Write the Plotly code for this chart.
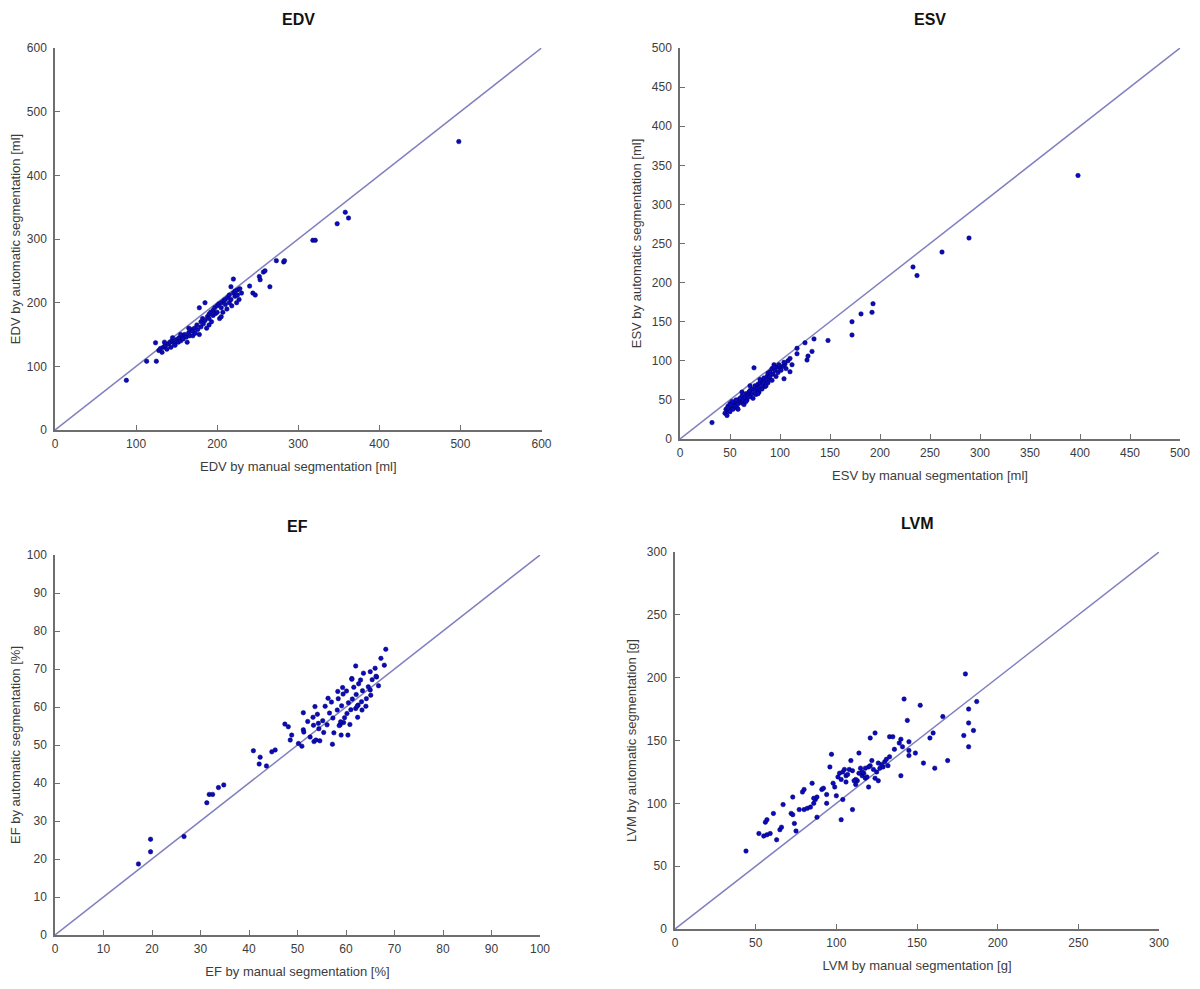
import plotly.graph_objects as go

# ---------------- data ----------------
edv_manual = [88, 113, 125, 124, 128, 130, 132, 134, 136, 138, 140, 142, 143, 145, 147, 148, 150, 152, 153, 155,
              157, 158, 160, 162, 163, 165, 166, 168, 170, 170, 172, 173, 175, 176, 178, 180, 180, 182, 183, 185,
              185, 187, 188, 190, 190, 192, 193, 195, 195, 197, 198, 200, 200, 202, 203, 205, 205, 207, 208, 210,
              210, 212, 213, 215, 215, 217, 218, 220, 220, 222, 222, 224, 225, 225, 227, 178, 165, 155, 145, 135,
              190, 205, 230, 228, 217, 240, 244, 247, 252, 253, 257, 259, 265, 273, 282, 283, 318, 321, 348, 358,
              362, 498]
edv_auto = [78, 108, 108, 137, 125, 128, 122, 130, 132, 127, 135, 138, 130, 140, 136, 133, 142, 138, 145, 140,
            148, 143, 150, 146, 138, 153, 148, 158, 155, 148, 160, 152, 165, 158, 150, 170, 162, 175, 167, 200,
            172, 160, 178, 182, 175, 185, 170, 188, 180, 192, 183, 195, 185, 198, 175, 192, 200, 185, 203, 197,
            205, 190, 208, 200, 212, 205, 195, 237, 215, 210, 218, 200, 212, 220, 205, 192, 160, 150, 145, 138,
            165, 178, 215, 222, 225, 226, 215, 212, 241, 236, 248, 250, 225, 266, 264, 266, 298, 298, 324, 342,
            333, 453]

esv_manual = [32, 45, 46, 47, 48, 48, 50, 50, 52, 53, 54, 55, 56, 57, 58, 58, 60, 60, 62, 62,
              63, 64, 65, 66, 67, 68, 69, 70, 70, 72, 72, 73, 74, 75, 75, 76, 77, 78, 79, 80,
              80, 82, 82, 83, 84, 85, 86, 87, 88, 88, 89, 90, 90, 92, 92, 93, 94, 95, 96, 97,
              98, 99, 100, 101, 103, 104, 105, 106, 108, 110, 110, 112, 58, 66, 78, 86, 48, 52, 56, 62,
              70, 80, 94, 104, 117, 117, 125, 127, 128, 132, 134, 148, 172, 172, 181, 192, 193, 233, 237, 262,
              289, 398]
esv_auto = [21, 33, 38, 30, 36, 42, 35, 45, 40, 38, 44, 42, 47, 40, 50, 45, 48, 52, 46, 55,
            50, 44, 53, 58, 50, 56, 60, 54, 62, 58, 64, 52, 91, 62, 68, 57, 65, 70, 60, 66,
            72, 64, 75, 70, 78, 67, 74, 80, 72, 84, 77, 86, 80, 75, 90, 83, 95, 88, 80, 92,
            85, 95, 90, 88, 93, 77, 96, 90, 100, 86, 103, 95, 38, 48, 58, 68, 40, 48, 50, 60,
            68, 76, 92, 98, 109, 116, 123, 101, 106, 112, 128, 126, 133, 150, 160, 162, 173, 220, 209, 239,
            257, 337]

ef_manual = [17.2, 19.7, 19.7, 26.6, 31.3, 31.8, 32.5, 33.7, 34.8, 40.9, 42.3, 42.1, 43.6, 44.7, 45.4, 47.4,
             48.1, 48.5, 48.8, 50.2, 50.9, 51.2, 51.2, 53.4, 53.8, 53.6, 54.3, 59.0, 59.5, 58.8, 62.0, 63.6,
             65.0, 66.0, 66.3, 67.2, 68.2, 67.9, 66.7, 65.0, 62.0, 62.5, 61.2,
             51.3, 52.1, 52.6, 53.2, 54.1, 54.4, 55.2, 55.7, 56.1, 56.6, 57.3, 57.0, 57.5, 58.2, 58.4, 58.9,
             59.1, 59.4, 59.7, 60.2, 60.5, 60.1, 60.8, 61.3, 61.0, 61.6, 62.3, 62.1, 62.6, 63.2, 63.4, 63.0,
             64.2, 64.6, 65.1, 65.4, 56.3, 54.6, 57.2, 58.3, 62.4, 64.1, 55.4, 53.3, 59.3, 61.2, 66.2, 63.3,
             60.4, 58.6]
ef_auto = [18.7, 21.9, 25.2, 25.9, 34.8, 37.0, 37.0, 38.8, 39.5, 48.5, 46.8, 45.0, 44.5, 48.2, 48.7, 55.5,
           54.8, 51.3, 52.6, 50.4, 49.7, 58.5, 54.0, 50.9, 51.3, 60.1, 55.7, 52.6, 55.9, 55.3, 70.8, 68.9,
           69.3, 70.2, 67.9, 72.8, 75.2, 71.0, 65.6, 64.5, 59.6, 60.5, 67.5,
           53.4, 56.2, 52.1, 57.3, 58.1, 54.3, 56.4, 60.2, 55.3, 58.4, 57.1, 61.3, 53.2, 59.2, 62.2, 56.1,
           60.3, 63.4, 57.2, 58.3, 61.1, 64.2, 55.4, 62.1, 59.3, 65.2, 60.2, 63.3, 66.1, 61.4, 64.3, 67.1,
           62.2, 65.3, 63.1, 67.2, 62.3, 51.1, 50.2, 64.1, 57.3, 60.2, 53.3, 55.2, 65.1, 67.3, 68.1, 59.2,
           52.6, 55.1]

lvm_manual = [44, 52, 55, 57, 56, 57, 61, 59, 63, 65, 66, 67, 73, 74, 75, 72, 73, 79, 80, 77,
              80, 82, 84, 86, 87, 85, 86, 88, 88, 91, 92, 94, 94, 97, 96, 98, 99, 100, 103, 104,
              101, 102, 104, 106, 108, 105, 110, 109, 114, 112, 113, 116, 118, 120, 121, 122, 124, 126, 127, 125,
              121, 124, 129, 132, 133, 133, 135, 136, 139, 140, 141, 140, 142, 144, 145, 145, 145, 149, 152, 154,
              158, 160, 161, 166, 169, 179, 180, 182, 182, 182, 185, 187,
              107, 110, 112, 115, 117, 119, 123, 128, 130, 111, 116, 120, 126, 103, 106, 114, 118, 131]
lvm_auto = [62, 76, 74, 75, 85, 87, 92, 76, 71, 79, 81, 99, 105, 84, 78, 92, 91, 109, 111, 95,
            95, 96, 97, 100, 103, 116, 104, 105, 89, 111, 112, 107, 100, 139, 129, 116, 113, 106, 87, 103,
            121, 124, 125, 122, 127, 127, 95, 134, 140, 115, 118, 122, 120, 113, 152, 134, 156, 118, 128, 125,
            130, 120, 129, 130, 137, 153, 153, 143, 148, 151, 145, 122, 183, 166, 138, 142, 149, 140, 178, 132,
            152, 156, 128, 169, 134, 154, 203, 175, 164, 145, 158, 181,
            123, 126, 119, 128, 124, 121, 127, 131, 133, 118, 125, 129, 132, 119, 117, 124, 128, 135]

edv_range = [0, 600]
esv_range = [0, 500]
ef_range = [0, 100]
lvm_range = [0, 300]

# page offset of the figure inside the browser body
OFF = 8
W, H = 1200 - OFF, 989 - OFF


def xdom(a, b):
    return [(a - OFF) / W, (b - OFF) / W]


def ydom(bottom_px, top_px):
    return [(H - (bottom_px - OFF)) / H, (H - (top_px - OFF)) / H]


panels = [
    dict(name="EDV", xm=edv_manual, ya=edv_auto, rng=edv_range, dt=100,
         xt="EDV by manual segmentation [ml]", yt="EDV by automatic segmentation [ml]",
         xd=xdom(55, 541.5), yd=ydom(430, 48)),
    dict(name="ESV", xm=esv_manual, ya=esv_auto, rng=esv_range, dt=50,
         xt="ESV by manual segmentation [ml]", yt="ESV by automatic segmentation [ml]",
         xd=xdom(680, 1180), yd=ydom(439, 48)),
    dict(name="EF", xm=ef_manual, ya=ef_auto, rng=ef_range, dt=10,
         xt="EF by manual segmentation [%]", yt="EF by automatic segmentation [%]",
         xd=xdom(55, 540), yd=ydom(935, 555)),
    dict(name="LVM", xm=lvm_manual, ya=lvm_auto, rng=lvm_range, dt=50,
         xt="LVM by manual segmentation [g]", yt="LVM by automatic segmentation [g]",
         xd=xdom(675, 1159), yd=ydom(929, 552)),
]

FONT = "Liberation Sans, Arial, sans-serif"
AXC = "#6e6e6e"
TXT = "#3c3c3c"

fig = go.Figure()
layout = dict(
    width=W, height=H, paper_bgcolor="white", plot_bgcolor="white",
    margin=dict(l=0, r=0, t=0, b=0), showlegend=False,
    font=dict(family=FONT, size=12, color=TXT),
)
annotations = []
for i, p in enumerate(panels):
    n = "" if i == 0 else str(i + 1)
    xa, ya = "x" + n, "y" + n
    fig.add_trace(go.Scatter(x=p["rng"], y=p["rng"], mode="lines", xaxis=xa, yaxis=ya,
                             line=dict(color="#8080c0", width=1.5), hoverinfo="skip"))
    fig.add_trace(go.Scatter(x=p["xm"], y=p["ya"], mode="markers", xaxis=xa, yaxis=ya,
                             marker=dict(size=4.5, color="#0a0ac0", line=dict(color="#000060", width=0.5))))
    common = dict(showgrid=False, zeroline=False, showline=True, linecolor=AXC, linewidth=1.5,
                  ticks="inside", ticklen=5, tickwidth=1, tickcolor=AXC, dtick=p["dt"], tick0=0,
                  range=p["rng"], automargin=False, tickfont=dict(family=FONT, size=12, color=TXT))
    layout["xaxis" + n] = dict(common, domain=p["xd"], anchor=ya, ticklabelstandoff=2,
                               title=dict(text=p["xt"], font=dict(size=13, color=TXT), standoff=12))
    layout["yaxis" + n] = dict(common, domain=p["yd"], anchor=xa, ticklabelstandoff=4,
                               title=dict(text=p["yt"], font=dict(size=13, color=TXT), standoff=7))
    annotations.append(dict(text="<b>" + p["name"] + "</b>", xref="paper", yref="paper",
                            x=(p["xd"][0] + p["xd"][1]) / 2, y=p["yd"][1] + 0.018,
                            xanchor="center", yanchor="bottom", showarrow=False,
                            font=dict(family=FONT, size=16, color="#111111")))
layout["annotations"] = annotations
fig.update_layout(**layout)
fig.write_html("out.html")
